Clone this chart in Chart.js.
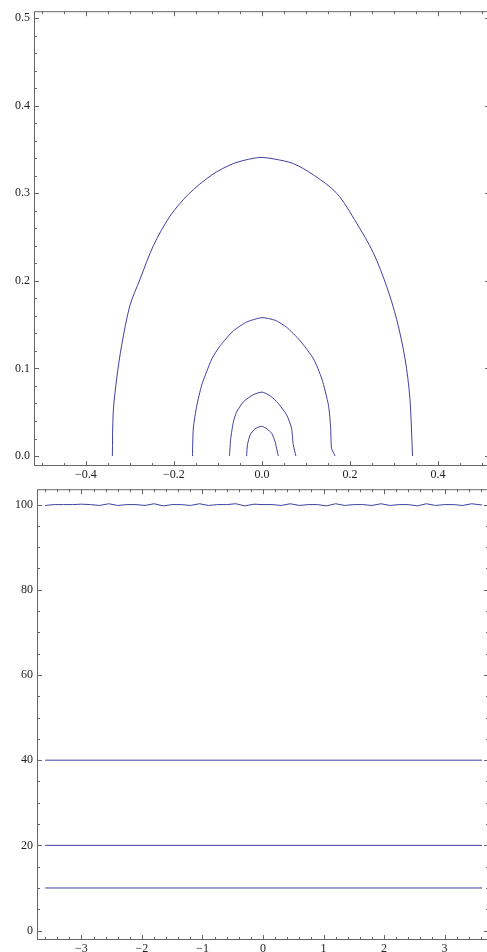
<!DOCTYPE html>
<html>
<head>
  <meta charset="UTF-8">
  <title>Contours and levels</title>
  <script src="https://cdn.jsdelivr.net/npm/chart.js"></script>
  <style>
    body { margin: 0; background: #fff; overflow: hidden; }
    .box { position: absolute; left: 0; width: 492px; }
    #top { top: 0; height: 478px; }
    #bot { top: 478px; height: 474px; }
  </style>
</head>
<body>
  <div class="box" id="top"><canvas id="c1"></canvas></div>
  <div class="box" id="bot"><canvas id="c2"></canvas></div>

  <script>
    // upper panel: four level curves
    const ring1X = [-0.340, -0.338, -0.330, -0.319, -0.300, -0.277, -0.247, -0.209, -0.167, -0.114, -0.065, -0.020,
                    0.000, 0.030, 0.071, 0.117, 0.170, 0.215, 0.253, 0.283, 0.306, 0.325, 0.336, 0.342];
    const ring1Y = [0, 0.050, 0.089, 0.126, 0.172, 0.202, 0.240, 0.274, 0.299, 0.321, 0.334, 0.340,
                    0.341, 0.339, 0.334, 0.321, 0.300, 0.266, 0.232, 0.194, 0.156, 0.111, 0.066, 0];
    const ring2X = [-0.158, -0.156, -0.148, -0.137, -0.126, -0.114, -0.095, -0.065, -0.035, 0.000,
                    0.030, 0.056, 0.086, 0.117, 0.136, 0.151, 0.156, 0.158, 0.166];
    const ring2Y = [0, 0.032, 0.058, 0.081, 0.096, 0.111, 0.126, 0.143, 0.153, 0.158,
                    0.155, 0.147, 0.132, 0.111, 0.088, 0.058, 0.032, 0.009, 0];
    const ring3X = [-0.074, -0.071, -0.065, -0.058, -0.042, -0.020, 0.000, 0.018, 0.037, 0.056, 0.067, 0.071, 0.077];
    const ring3Y = [0, 0.020, 0.039, 0.050, 0.062, 0.070, 0.073, 0.069, 0.060, 0.047, 0.032, 0.013, 0];
    const ring4X = [-0.035, -0.033, -0.027, -0.016, -0.001, 0.011, 0.022, 0.030, 0.033, 0.037];
    const ring4Y = [0, 0.013, 0.024, 0.031, 0.034, 0.031, 0.026, 0.016, 0.009, 0];

    // lower panel: flat levels
    const lineX = [-3.6, 3.62];
    const level10 = [10, 10];
    const level20 = [20, 20];
    const level40 = [40, 40];
    const x100 = [-3.6, -3.45, -3.3, -3.15, -3.0, -2.85, -2.7,
                  -2.55, -2.4, -2.25, -2.1, -1.95, -1.8, -1.65,
                  -1.5, -1.35, -1.2, -1.05, -0.9, -0.75, -0.6,
                  -0.45, -0.3, -0.15, 0, 0.15, 0.3, 0.45,
                  0.6, 0.75, 0.9, 1.05, 1.2, 1.35, 1.5,
                  1.65, 1.8, 1.95, 2.1, 2.25, 2.4, 2.55,
                  2.7, 2.85, 3.0, 3.15, 3.3, 3.45, 3.62];
    const level100 = [99.8, 100, 100, 100, 100.1, 100, 99.8,
                      100.2, 99.8, 100, 100, 99.8, 100.2, 99.7,
                      100, 100, 99.8, 100.2, 99.8, 100, 100,
                      100.2, 99.7, 100.1, 100, 100, 99.8, 100.2,
                      99.8, 100, 100, 99.7, 100.2, 99.8, 100,
                      100, 99.8, 100.2, 99.8, 100, 100, 99.7,
                      100.2, 99.8, 100, 100, 99.8, 100.2, 99.9];

    // ticks
    const topXTicks = [-0.4, -0.2, 0, 0.2, 0.4];
    const topXLabels = ['−0.4', '−0.2', '0.0', '0.2', '0.4'];
    const topYTicks = [0, 0.1, 0.2, 0.3, 0.4, 0.5];
    const topYLabels = ['0.0', '0.1', '0.2', '0.3', '0.4', '0.5'];
    const botXTicks = [-3, -2, -1, 0, 1, 2, 3];
    const botXLabels = ['−3', '−2', '−1', '0', '1', '2', '3'];
    const botYTicks = [0, 20, 40, 60, 80, 100];
    const botYLabels = ['0', '20', '40', '60', '80', '100'];

    const lineColor = '#3f3fa0';
    const frameColor = '#666';

    Chart.defaults.font.family = "'Liberation Serif', 'DejaVu Serif', serif";
    Chart.defaults.font.size = 12;
    Chart.defaults.color = '#222';

    function pts(xs, ys) {
      return xs.map((x, i) => ({ x: x, y: ys[i] }));
    }

    function curve(xs, ys, t) {
      return {
        data: pts(xs, ys),
        showLine: true,
        borderColor: lineColor,
        borderWidth: 1,
        pointRadius: 0,
        tension: t || 0,
        fill: false
      };
    }

    // Mathematica-like frame with inward ticks on all four sides
    const framePlugin = {
      id: 'frame',
      afterDraw(chart, args, o) {
        const ctx = chart.ctx;
        const a = chart.chartArea;
        const sx = chart.scales.x, sy = chart.scales.y;
        ctx.save();
        ctx.strokeStyle = frameColor;
        ctx.lineWidth = 1;
        ctx.strokeRect(a.left + 0.5, a.top + 0.5, a.right - a.left - 1, a.bottom - a.top - 1);
        ctx.beginPath();
        for (let k = Math.ceil(sx.min / o.xStep); k * o.xStep <= sx.max; k++) {
          const v = k * o.xStep;
          const major = o.xMajor.some(m => Math.abs(m - v) < o.xStep / 10);
          const len = major ? 5 : 3;
          const p = Math.round(sx.getPixelForValue(v)) + 0.5;
          ctx.moveTo(p, a.bottom); ctx.lineTo(p, a.bottom - len);
          ctx.moveTo(p, a.top); ctx.lineTo(p, a.top + len);
        }
        for (let k = Math.ceil(sy.min / o.yStep); k * o.yStep <= sy.max; k++) {
          const v = k * o.yStep;
          const major = o.yMajor.some(m => Math.abs(m - v) < o.yStep / 10);
          const len = major ? 5 : 3;
          const p = Math.round(sy.getPixelForValue(v)) + 0.5;
          ctx.moveTo(a.left, p); ctx.lineTo(a.left + len, p);
          ctx.moveTo(a.right, p); ctx.lineTo(a.right - len, p);
        }
        ctx.stroke();
        ctx.restore();
      }
    };

    function makeChart(id, datasets, c) {
      return new Chart(document.getElementById(id), {
        type: 'scatter',
        data: { datasets: datasets },
        plugins: [framePlugin],
        options: {
          responsive: true,
          maintainAspectRatio: false,
          animation: false,
          layout: { padding: { top: c.padTop, right: c.padRight, left: 0, bottom: 0 } },
          plugins: {
            legend: { display: false },
            tooltip: { enabled: false },
            frame: { xStep: c.xStep, yStep: c.yStep, xMajor: c.xTicks, yMajor: c.yTicks }
          },
          scales: {
            x: {
              type: 'linear',
              min: c.xMin, max: c.xMax,
              grid: { display: false, drawTicks: false },
              border: { display: false },
              afterBuildTicks: s => { s.ticks = c.xTicks.map(v => ({ value: v })); },
              afterFit: s => { s.height = c.xHeight; },
              ticks: {
                autoSkip: false, maxRotation: 0, padding: 2,
                callback: (v, i) => c.xLabels[i]
              }
            },
            y: {
              type: 'linear',
              min: c.yMin, max: c.yMax,
              grid: { display: false, drawTicks: false },
              border: { display: false },
              afterBuildTicks: s => { s.ticks = c.yTicks.map(v => ({ value: v })); },
              afterFit: s => { s.width = c.yWidth; },
              ticks: {
                autoSkip: false, padding: 4,
                callback: (v, i) => c.yLabels[i]
              }
            }
          }
        }
      });
    }

    makeChart('c1', [
      curve(ring1X, ring1Y, 0.3),
      curve(ring2X, ring2Y, 0.2),
      curve(ring3X, ring3Y, 0.2),
      curve(ring4X, ring4Y, 0.2)
    ], {
      padTop: 9, padRight: 2, xHeight: 12, yWidth: 34,
      xMin: -0.518, xMax: 0.518, yMin: -0.0114, yMax: 0.508,
      xStep: 0.05, yStep: 0.02,
      xTicks: topXTicks, xLabels: topXLabels, yTicks: topYTicks, yLabels: topYLabels
    });

    makeChart('c2', [
      curve(x100, level100),
      curve(lineX, level40),
      curve(lineX, level20),
      curve(lineX, level10)
    ], {
      padTop: 7, padRight: 3, xHeight: 12, yWidth: 37,
      xMin: -3.735, xMax: 3.735, yMin: -2.214, yMax: 103.616,
      xStep: 0.2, yStep: 5,
      xTicks: botXTicks, xLabels: botXLabels, yTicks: botYTicks, yLabels: botYLabels
    });
  </script>
</body>
</html>
